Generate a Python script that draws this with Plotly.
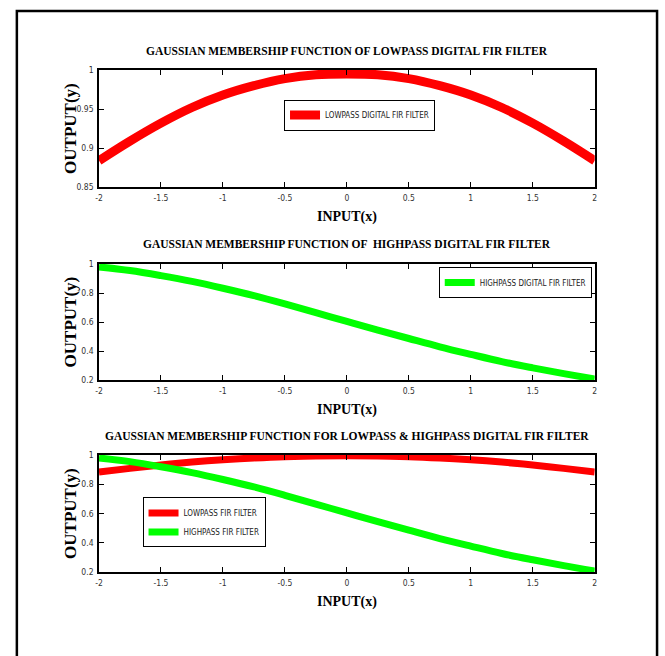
import plotly.graph_objects as go

# ---- data ----
x_vals = [-2, -1.75, -1.5, -1.25, -1, -0.75, -0.5, -0.25, 0,
          0.25, 0.5, 0.75, 1, 1.25, 1.5, 1.75, 2]
lowpass = [0.884, 0.909, 0.932, 0.952, 0.968, 0.980, 0.989, 0.994, 0.995,
           0.994, 0.989, 0.980, 0.968, 0.952, 0.932, 0.909, 0.884]
highpass = [0.980, 0.955, 0.920, 0.880, 0.833, 0.782, 0.725, 0.665, 0.605,
            0.545, 0.487, 0.430, 0.378, 0.328, 0.285, 0.245, 0.208]

x_ticks = [-2, -1.5, -1, -0.5, 0, 0.5, 1, 1.5, 2]
x_ticklabels = ["-2", "-1.5", "-1", "-0.5", "0", "0.5", "1", "1.5", "2"]
y1_ticks = [0.85, 0.9, 0.95, 1]
y1_ticklabels = ["0.85", "0.9", "0.95", "1"]
y2_ticks = [0.2, 0.4, 0.6, 0.8, 1]
y2_ticklabels = ["0.2", "0.4", "0.6", "0.8", "1"]

titles = [
    "GAUSSIAN MEMBERSHIP FUNCTION OF LOWPASS DIGITAL FIR FILTER",
    "GAUSSIAN MEMBERSHIP FUNCTION OF  HIGHPASS DIGITAL FIR FILTER",
    "GAUSSIAN MEMBERSHIP FUNCTION FOR LOWPASS &amp; HIGHPASS DIGITAL FIR FILTER",
]
x_label = "INPUT(x)"
y_label = "OUTPUT(y)"

RED = "#ff0000"
GREEN = "#00ff00"

W, H = 665, 656


def px(x):
    return x / W


def py(y):
    return 1 - y / H


# panel boxes in pixels: (top, bottom)
panels = [(66, 185), (263, 381), (457, 576)]
XL, XR = 96, 597

NARROW = "Liberation Sans Narrow, Arial Narrow, DejaVu Sans Condensed, Liberation Sans"

fig = go.Figure()

fig.add_trace(go.Scatter(x=x_vals, y=lowpass, mode="lines", line=dict(color=RED, width=9, shape="spline"),
                         name="LOWPASS DIGITAL FIR FILTER", xaxis="x", yaxis="y", legend="legend",
                         showlegend=True))
fig.add_trace(go.Scatter(x=x_vals, y=highpass, mode="lines", line=dict(color=GREEN, width=7, shape="spline"),
                         name="HIGHPASS DIGITAL FIR FILTER", xaxis="x2", yaxis="y2", legend="legend2",
                         showlegend=True))
fig.add_trace(go.Scatter(x=x_vals, y=lowpass, mode="lines", line=dict(color=RED, width=7, shape="spline"),
                         name="LOWPASS FIR FILTER", xaxis="x3", yaxis="y3", legend="legend3",
                         showlegend=True))
fig.add_trace(go.Scatter(x=x_vals, y=highpass, mode="lines", line=dict(color=GREEN, width=7, shape="spline"),
                         name="HIGHPASS FIR FILTER", xaxis="x3", yaxis="y3", legend="legend3",
                         showlegend=True))

tickfont = dict(family=NARROW, size=8.5, color="#333333")

axis_common = dict(showline=True, linecolor="black", linewidth=1.5, mirror="ticks",
                   ticks="inside", ticklen=5, tickwidth=1, tickcolor="black",
                   showgrid=False, zeroline=False, tickfont=tickfont, fixedrange=True)

layout = dict(width=W, height=H, margin=dict(l=0, r=0, t=0, b=0),
              paper_bgcolor="white", plot_bgcolor="white", hovermode=False, showlegend=True)

yinfo = [([0.85, 1], y1_ticks, y1_ticklabels), ([0.2, 1], y2_ticks, y2_ticklabels), ([0.2, 1], y2_ticks, y2_ticklabels)]
for i, (top, bot) in enumerate(panels):
    sx = "" if i == 0 else str(i + 1)
    layout["xaxis" + sx] = dict(axis_common, domain=[px(XL), px(XR)], range=[-2, 2],
                                tickvals=x_ticks, ticktext=x_ticklabels,
                                anchor="y" + sx, ticklabelstandoff=2)
    rng, tv, tt = yinfo[i]
    layout["yaxis" + sx] = dict(axis_common, domain=[py(bot), py(top)], range=rng,
                                tickvals=tv, ticktext=tt, anchor="x" + sx, ticklabelstandoff=2)

legend_common = dict(bgcolor="white", bordercolor="black", borderwidth=1,
                     font=dict(family=NARROW, size=8, color="#222222"),
                     xanchor="left", yanchor="top", itemwidth=30, tracegroupgap=0,
                     visible=True)
layout["legend"] = dict(legend_common, x=px(283), y=py(96))
layout["legend2"] = dict(legend_common, x=px(594), y=py(266), xanchor="right")
layout["legend3"] = dict(legend_common, x=px(140), y=py(500))

fig.update_layout(**layout)

title_font = dict(family="Liberation Serif, Times New Roman, serif", size=11.5, color="black")
label_font = dict(family="Liberation Serif, Times New Roman, serif", size=15, color="black")

title_y = [47, 243, 438]
xlabel_y = [215, 411, 606]
cx = (XL + XR) / 2
for i, (top, bot) in enumerate(panels):
    fig.add_annotation(text="<b>" + titles[i] + "</b>", xref="paper", yref="paper",
                       x=px(cx), y=py(title_y[i]), xanchor="center", yanchor="middle",
                       showarrow=False, font=title_font)
    fig.add_annotation(text="<b>" + x_label + "</b>", xref="paper", yref="paper",
                       x=px(cx), y=py(xlabel_y[i]), xanchor="center", yanchor="middle",
                       showarrow=False, font=dict(label_font, size=14))
    fig.add_annotation(text="<b>" + y_label + "</b>", xref="paper", yref="paper",
                       x=px(67), y=py((top + bot) / 2), xanchor="center", yanchor="middle",
                       textangle=-90, showarrow=False, font=dict(label_font, size=17))

# outer frame
fig.add_shape(type="rect", xref="paper", yref="paper", x0=px(13), x1=px(660), y0=-0.05, y1=py(6),
              line=dict(color="black", width=2.5), fillcolor="rgba(0,0,0,0)", layer="above")

fig.write_html("out.html")
